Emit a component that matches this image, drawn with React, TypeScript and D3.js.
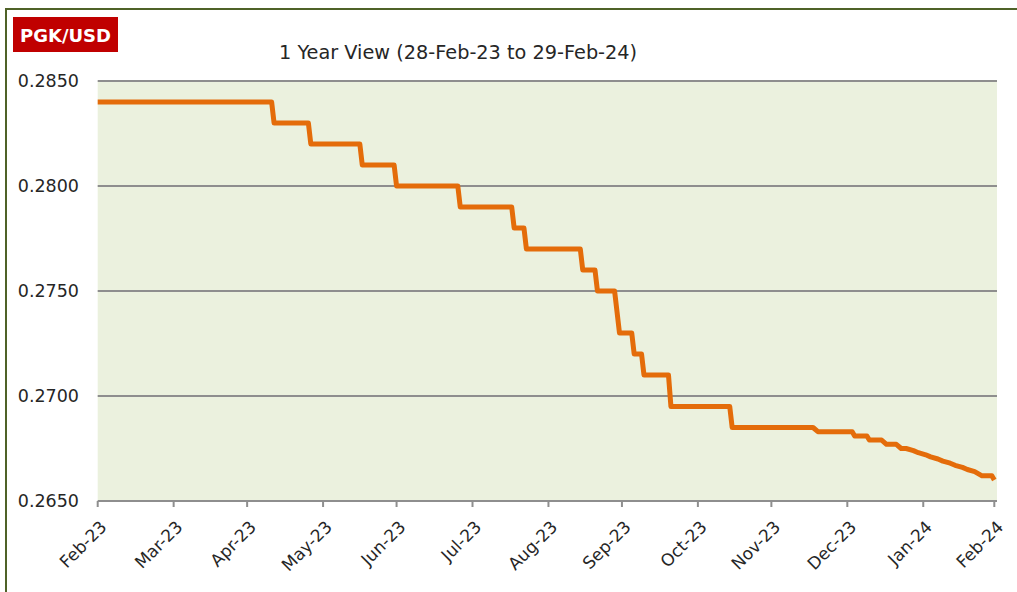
import React from 'react';
import * as d3 from 'd3';

// PGK/USD daily rate, points where the rate changes
const rateDates = [
  '2023-02-28', '2023-05-10', '2023-05-11', '2023-05-25', '2023-05-26', '2023-06-15',
  '2023-06-16', '2023-06-29', '2023-06-30', '2023-07-25', '2023-07-26', '2023-08-16',
  '2023-08-17', '2023-08-21', '2023-08-22', '2023-09-13', '2023-09-14', '2023-09-19',
  '2023-09-20', '2023-09-27', '2023-09-28', '2023-09-29', '2023-10-04', '2023-10-05',
  '2023-10-08', '2023-10-09', '2023-10-19', '2023-10-20', '2023-11-13', '2023-11-14',
  '2023-12-17', '2023-12-19', '2024-01-02', '2024-01-03', '2024-01-08', '2024-01-09',
  '2024-01-14', '2024-01-16', '2024-01-20', '2024-01-22', '2024-01-24', '2024-01-27',
  '2024-01-29', '2024-02-01', '2024-02-03', '2024-02-06', '2024-02-08', '2024-02-11',
  '2024-02-13', '2024-02-16', '2024-02-18', '2024-02-21', '2024-02-24', '2024-02-28',
  '2024-02-29',
];
const rateValues = [
  0.2840, 0.2840, 0.2830, 0.2830, 0.2820, 0.2820,
  0.2810, 0.2810, 0.2800, 0.2800, 0.2790, 0.2790,
  0.2780, 0.2780, 0.2770, 0.2770, 0.2760, 0.2760,
  0.2750, 0.2750, 0.2740, 0.2730, 0.2730, 0.2720,
  0.2720, 0.2710, 0.2710, 0.2695, 0.2695, 0.2685,
  0.2685, 0.2683, 0.2683, 0.2681, 0.2681, 0.2679,
  0.2679, 0.2677, 0.2677, 0.2675, 0.2675, 0.2674,
  0.2673, 0.2672, 0.2671, 0.2670, 0.2669, 0.2668,
  0.2667, 0.2666, 0.2665, 0.2664, 0.2662, 0.2662,
  0.2660,
];

// month-end ticks on the date axis
const tickDates = [
  '2023-02-28', '2023-03-31', '2023-04-30', '2023-05-31', '2023-06-30', '2023-07-31',
  '2023-08-31', '2023-09-30', '2023-10-31', '2023-11-30', '2023-12-31', '2024-01-31',
  '2024-02-29',
];
const yTicks = [0.265, 0.27, 0.275, 0.28, 0.285];

const W = 1017;
const H = 592;
const left = 97.7;
const right = 994.3;
const top = 81;
const bottom = 501;
const font = '"DejaVu Sans", sans-serif';

const parse = d3.utcParse('%Y-%m-%d');

export default function App() {
  const x = d3.scaleUtc()
    .domain([parse(tickDates[0])!, parse(tickDates[tickDates.length - 1])!])
    .range([left, right]);
  const y = d3.scaleLinear().domain([0.265, 0.285]).range([bottom, top]);

  const points = rateDates.map((d, i) => ({ date: parse(d)!, value: rateValues[i] }));
  const line = d3.line<{ date: Date; value: number }>()
    .x((d) => x(d.date))
    .y((d) => y(d.value));

  const fmt = d3.utcFormat('%b-%y');

  return (
    <svg width={W} height={H} style={{ position: 'absolute', left: 0, top: 0, background: '#fff' }}>
      <rect x={6} y={9} width={W + 20} height={H + 20} fill="#fff" stroke="#4f6228" strokeWidth={2} />

      <rect x={13} y={17} width={105} height={35} fill="#c00000" />
      <text x={65.5} y={42} textAnchor="middle" fill="#fff" fontFamily={font} fontWeight="bold" fontSize={18}>
        PGK/USD
      </text>

      <text x={279} y={59} fill="#262626" fontFamily={font} fontSize={19.3}>
        1 Year View (28-Feb-23 to 29-Feb-24)
      </text>

      <rect x={left} y={top} width={997 - left} height={bottom - top} fill="#ebf1de" />

      {yTicks.map((t) => (
        <g key={t}>
          <line x1={left} x2={997} y1={y(t)} y2={y(t)} stroke="#8e8e8e" strokeWidth={2} />
          <text x={79} y={y(t) + 6} textAnchor="end" fill="#262626" fontFamily={font} fontSize={17.5}>
            {t.toFixed(4)}
          </text>
        </g>
      ))}

      {tickDates.map((d) => {
        const tx = x(parse(d)!);
        return (
          <g key={d}>
            <line x1={tx} x2={tx} y1={bottom} y2={bottom + 6} stroke="#8e8e8e" strokeWidth={2} />
            <text
              transform={`translate(${tx + 10},${bottom + 27}) rotate(-45)`}
              textAnchor="end"
              fill="#262626"
              fontFamily={font}
              fontSize={17}
            >
              {fmt(parse(d)!)}
            </text>
          </g>
        );
      })}

      <path d={line(points) ?? ''} fill="none" stroke="#e46c0a" strokeWidth={5} strokeLinejoin="round" />
    </svg>
  );
}
